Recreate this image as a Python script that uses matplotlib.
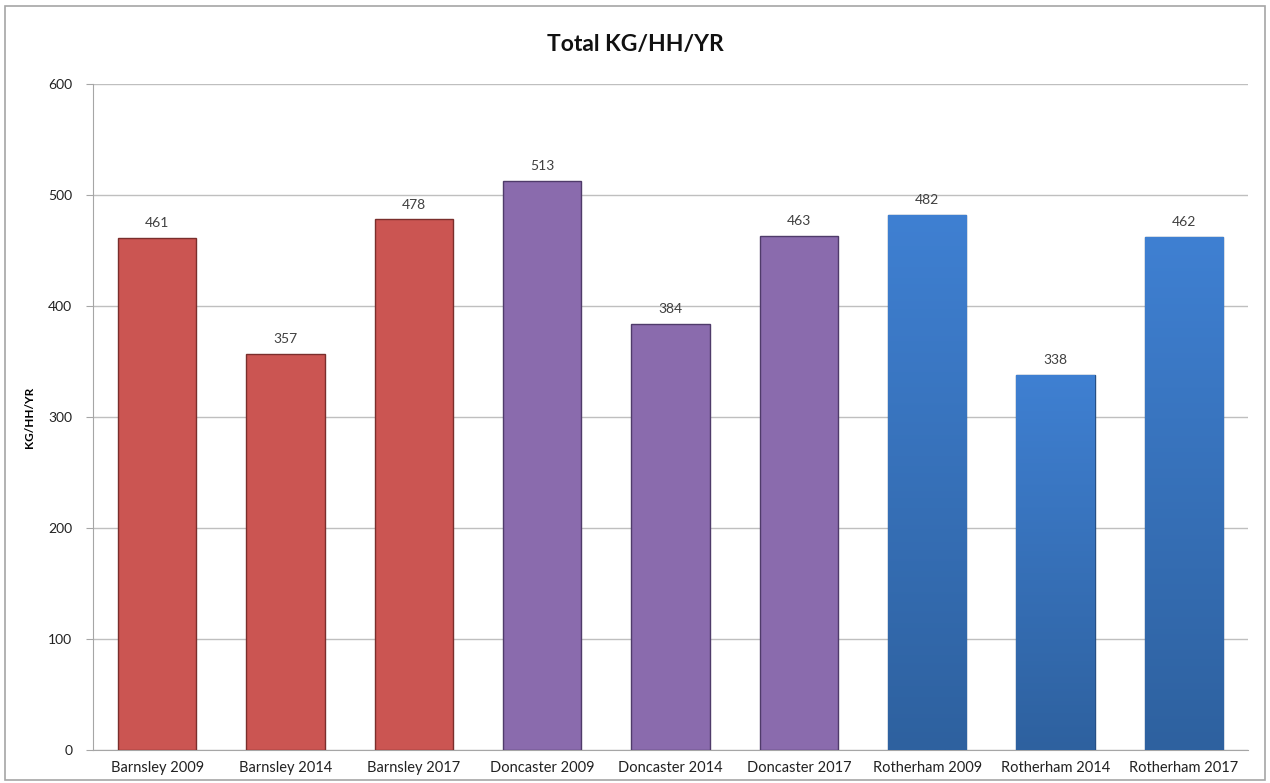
import numpy as np
import matplotlib
matplotlib.use("Agg")
import matplotlib.pyplot as plt
from matplotlib.patches import Rectangle

plt.rcParams['font.family'] = ['Lato', 'DejaVu Sans']

categories = ["Barnsley 2009", "Barnsley 2014", "Barnsley 2017",
              "Doncaster 2009", "Doncaster 2014", "Doncaster 2017",
              "Rotherham 2009", "Rotherham 2014", "Rotherham 2017"]
values = [461, 357, 478, 513, 384, 463, 482, 338, 462]
labels = ["461", "357", "478", "513", "384", "463", "482", "338", "462"]

# one colour per district: face, edge
face_colors = ["#CB5552"] * 3 + ["#8A6BAD"] * 3 + ["#3D7DCC"] * 3
edge_colors = ["#7A2E2C"] * 3 + ["#4F3B6A"] * 3 + ["#264F84"] * 3

fig = plt.figure(figsize=(12.7, 7.83), dpi=100)
fig.patches.append(Rectangle((5 / 1270, 3 / 783), 1260 / 1270, 774 / 783,
                             transform=fig.transFigure, fill=False,
                             edgecolor="#A6A6A6", linewidth=1.2))

ax = fig.add_axes([0.0732, 0.0421, 0.9095, 0.8506])
x = np.arange(len(categories))
bars = ax.bar(x, values, width=0.61, color=face_colors, edgecolor=edge_colors,
              linewidth=1.0, zorder=3)

# vertical shading on the blue bars (lighter at the top)
grad = np.linspace(0, 1, 256).reshape(-1, 1)
cmap = matplotlib.colors.LinearSegmentedColormap.from_list(
    "blue_fade", ["#2E619F", "#3F80D2"])
for b, c in zip(bars, face_colors):
    if c == "#3D7DCC":
        x0, w, h = b.get_x(), b.get_width(), b.get_height()
        im = ax.imshow(grad, extent=[x0, x0 + w, 0, h], origin="lower",
                       cmap=cmap, aspect="auto", zorder=3.5)
        im.set_clip_path(b)

for xi, v, lab in zip(x, values, labels):
    ax.text(xi, v + 8, lab, ha="center", va="bottom", fontsize=10,
            color="#404040", zorder=4)

ax.set_xlim(-0.5, len(categories) - 0.5)
ax.set_ylim(0, 600)
ax.set_yticks(np.arange(0, 601, 100))
ax.set_xticks(x)
ax.set_xticklabels(categories, fontsize=10.5, color="#222222")
ax.tick_params(axis="x", length=0, pad=8)
ax.tick_params(axis="y", length=5, color="#A6A6A6", labelsize=10,
               labelcolor="#222222", pad=10)
ax.yaxis.grid(True, color="#BFBFBF", linewidth=1.0, zorder=0)
ax.set_axisbelow(True)
for s in ["top", "right"]:
    ax.spines[s].set_visible(False)
ax.spines["left"].set_color("#A6A6A6")
ax.spines["bottom"].set_color("#A6A6A6")

ax.set_ylabel("KG/HH/YR", fontsize=8.5, fontweight="bold")
ax.yaxis.set_label_coords(-0.05, 0.5)
fig.text(0.5, 0.943, "Total KG/HH/YR", ha="center", va="center",
         fontsize=16.5, fontweight="bold", color="#111111")

fig.savefig("out.png", dpi=100)
